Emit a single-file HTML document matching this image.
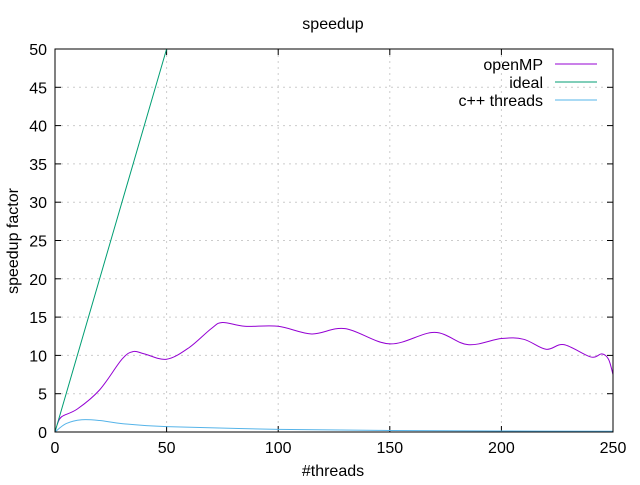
<!DOCTYPE html>
<html><head><meta charset="utf-8"><style>
body{margin:0;background:#fff}
svg text{font-family:"Liberation Sans",sans-serif;font-size:16px;fill:#000}
</style></head><body>
<svg id="c" width="640" height="480">
<text x="333" y="29" text-anchor="middle">speedup</text>
<text x="333" y="476" text-anchor="middle">#threads</text>
<text transform="translate(18,241) rotate(-90)" text-anchor="middle">speedup factor</text>
<g id="grid"></g><g id="ticks"></g><g id="series"></g>
<rect x="55" y="49" width="558" height="383" fill="none" stroke="#000" stroke-width="1"/>
<g id="legend"></g>
</svg>
<script>
const xTicks=[0,50,100,150,200,250];
const yTicks=[0,5,10,15,20,25,30,35,40,45,50];
const openmpX=[1,3,10,20,30,35,40,50,60,70,75,85,100,115,130,150,170,185,200,210,220,228,240,245,248,250];
const openmpY=[1,2,3,5.5,9.5,10.5,10.2,9.5,11,13.5,14.3,13.8,13.8,12.8,13.5,11.5,13,11.4,12.2,12.1,10.8,11.4,9.8,10.2,9.5,7.5];
const idealX=[0,50];
const idealY=[0,50];
const cppX=[0,5,12,20,30,50,100,150,200,250];
const cppY=[0,1.1,1.6,1.5,1.1,0.7,0.35,0.2,0.13,0.1];
const X=v=>55+v*558/250, Y=v=>432-v*383/50;
const NS="http://www.w3.org/2000/svg";
function mk(t,a,p){const e=document.createElementNS(NS,t);for(const k in a)e.setAttribute(k,a[k]);p.appendChild(e);return e;}
const grid=document.getElementById('grid'),ticks=document.getElementById('ticks'),ser=document.getElementById('series'),leg=document.getElementById('legend');
xTicks.forEach(v=>{
 if(v>0&&v<250){const g=mk('line',{x1:X(v),x2:X(v),y1:49,y2:432,stroke:'#ccc','stroke-dasharray':'2,4'},grid);
 
 }
 mk('line',{x1:X(v),x2:X(v),y1:432,y2:426,stroke:'#000'},ticks);
 mk('line',{x1:X(v),x2:X(v),y1:49,y2:55,stroke:'#000'},ticks);
 const t=mk('text',{x:X(v),y:453,'text-anchor':'middle'},ticks);t.textContent=v;
 
 
});
yTicks.forEach(v=>{
 if(v>0&&v<50){const g=mk('line',{x1:55,x2:613,y1:Y(v),y2:Y(v),stroke:'#ccc','stroke-dasharray':'2,4'},grid);
 
 }
 mk('line',{x1:55,x2:61,y1:Y(v),y2:Y(v),stroke:'#000'},ticks);
 mk('line',{x1:607,x2:613,y1:Y(v),y2:Y(v),stroke:'#000'},ticks);
 const t=mk('text',{x:47,y:Y(v)+6,'text-anchor':'end'},ticks);t.textContent=v;
 
 
});
function path(xs,ys){const p=xs.map((x,i)=>[X(x),Y(ys[i])]);let d='M'+p[0][0]+','+p[0][1];
 for(let i=0;i<p.length-1;i++){const p0=p[i-1]||p[i],p1=p[i],p2=p[i+1],p3=p[i+2]||p2;
 d+=`C${p1[0]+(p2[0]-p0[0])/6},${p1[1]+(p2[1]-p0[1])/6} ${p2[0]-(p3[0]-p1[0])/6},${p2[1]-(p3[1]-p1[1])/6} ${p2[0]},${p2[1]}`;}return d;}
const S=[["openMP",openmpX,openmpY,"#9400d3"],["ideal",idealX,idealY,"#009e73"],["c++ threads",cppX,cppY,"#56b4e9"]];
S.forEach((s,i)=>{
 const p=mk('path',{d:path(s[1],s[2]),fill:'none',stroke:s[3],'stroke-width':1},ser);
 
 
 const y=64+i*18;
 const t=mk('text',{x:543,y:y+6,'text-anchor':'end'},leg);t.textContent=s[0];
 
 
 mk('line',{x1:555,x2:597,y1:y,y2:y,stroke:s[3]},leg);
});
</script>
</body></html>
